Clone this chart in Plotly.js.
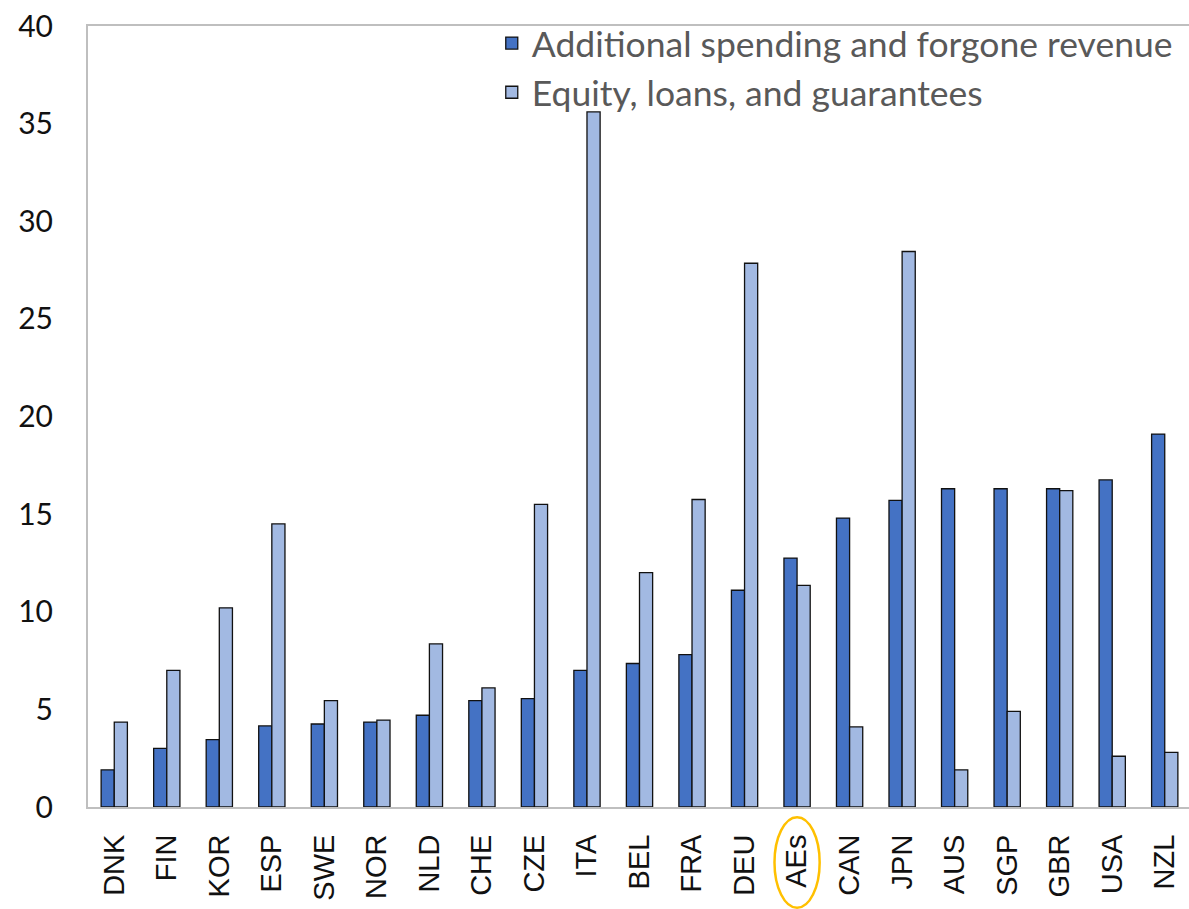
<!DOCTYPE html>
<html>
<head>
<meta charset="utf-8">
<script src="https://cdn.plot.ly/plotly-3.0.1.min.js"></script>
<style>
html,body{margin:0;padding:0;background:#fff;overflow:hidden;width:1189px;height:909px;}
#chart{width:1191px;height:909px;}
</style>
</head>
<body>
<div id="chart"></div>
<script>
const categories = ["DNK","FIN","KOR","ESP","SWE","NOR","NLD","CHE","CZE","ITA","BEL","FRA","DEU","AEs","CAN","JPN","AUS","SGP","GBR","USA","NZL"];
const spending = [1.9,3.0,3.45,4.15,4.25,4.35,4.7,5.45,5.55,7.0,7.35,7.8,11.1,12.75,14.8,15.7,16.3,16.3,16.3,16.75,19.1];
const equity = [4.35,7.0,10.2,14.5,5.45,4.45,8.35,6.1,15.5,35.6,12.0,15.75,27.85,11.35,4.1,28.45,1.9,4.9,16.2,2.6,2.8];
const seriesNames = ["Additional spending and forgone revenue","Equity, loans, and guarantees"];
const yTicks = [0,5,10,15,20,25,30,35,40];
const highlight = "AEs";

const traces = [
  {type:"bar", name:seriesNames[0], x:categories, y:spending,
   marker:{color:"#4472C4", line:{color:"#111111", width:1.3}}},
  {type:"bar", name:seriesNames[1], x:categories, y:equity,
   marker:{color:"#A2B9E2", line:{color:"#111111", width:1.3}}}
];

const hi = categories.indexOf(highlight);

const layout = {
  width:1191, height:909,
  margin:{l:88, r:0, t:26, b:102},
  paper_bgcolor:"#ffffff", plot_bgcolor:"#ffffff",
  barmode:"group", bargap:0.5, bargroupgap:0,
  showlegend:true,
  legend:{x:0.988, xanchor:"right", y:1.016, yanchor:"top", bgcolor:"rgba(0,0,0,0)",
    font:{family:"Lato, 'Open Sans', sans-serif", size:35.5, color:"#595959"},
    tracegroupgap:0, itemwidth:30},
  xaxis:{type:"category", tickangle:-90, showgrid:false, zeroline:false,
    showline:true, linecolor:"#BFBFBF", linewidth:2, mirror:true, ticks:"",
    ticklabelstandoff:14,
    tickfont:{family:"'Liberation Sans', Arial, sans-serif", size:29, color:"#111111"}},
  yaxis:{range:[0,40], tickvals:yTicks, showgrid:false, zeroline:false,
    showline:true, linecolor:"#BFBFBF", linewidth:2, mirror:true, ticks:"",
    ticklabelstandoff:27,
    tickfont:{family:"Lato, 'Open Sans', sans-serif", size:30, color:"#111111"}},
  shapes:[{type:"circle", xref:"x", yref:"paper",
    x0:hi-0.43, x1:hi+0.43, y0:-0.129, y1:-0.013,
    line:{color:"#FFC000", width:2.5}, fillcolor:"rgba(0,0,0,0)"}]
};

Plotly.newPlot("chart", traces, layout, {displayModeBar:false, staticPlot:true});
</script>
</body>
</html>
